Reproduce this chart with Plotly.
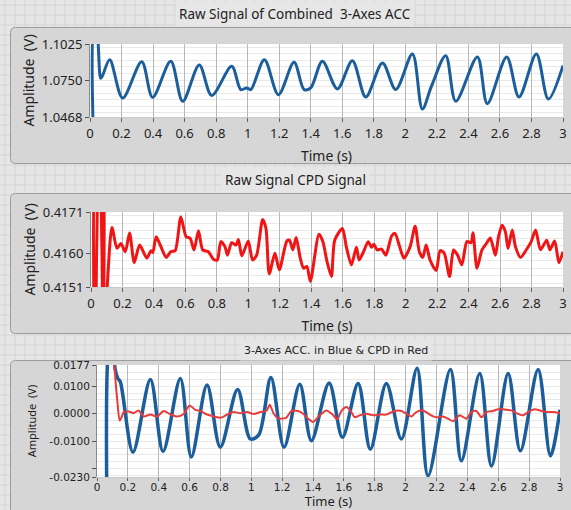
import plotly.graph_objects as go

# ---------------- data ----------------
# Panel 1: raw combined 3-axes ACC (V)
t_acc = [0.022, 0.030, 0.045, 0.053, 0.068, 0.080, 0.125, 0.207, 0.328, 0.397, 0.512, 0.588,
         0.693, 0.772, 0.899, 0.956, 0.994, 1.020, 1.106, 1.195, 1.294, 1.358, 1.400, 1.474,
         1.569, 1.664, 1.749, 1.855, 1.939, 2.045, 2.108, 2.167, 2.256, 2.320, 2.457, 2.520,
         2.643, 2.721, 2.831, 2.907, 3.000]
v_acc = [1.030, 1.118, 1.118, 1.100, 1.0763, 1.0785, 1.0905, 1.0613, 1.0890, 1.0618, 1.0893, 1.0588,
         1.0865, 1.0633, 1.0855, 1.0677, 1.0690, 1.0677, 1.0905, 1.0638, 1.0885, 1.0677, 1.0690, 1.0893,
         1.0682, 1.0898, 1.0621, 1.0880, 1.0677, 1.0949, 1.0529, 1.0707, 1.0936, 1.0588, 1.0926, 1.0570,
         1.0926, 1.0621, 1.0949, 1.0605, 1.0860]

# Panel 2: raw CPD signal (V)
t_cpd = [0.020, 0.028, 0.036, 0.043, 0.062, 0.069, 0.076, 0.083, 0.098, 0.133, 0.165, 0.190,
         0.218, 0.245, 0.275, 0.309, 0.355, 0.381, 0.393, 0.414, 0.440, 0.478, 0.507, 0.535,
         0.571, 0.605, 0.630, 0.655, 0.683, 0.710, 0.746, 0.778, 0.803, 0.825, 0.852, 0.867,
         0.894, 0.922, 0.937, 0.958, 0.979, 1.000, 1.027, 1.053, 1.091, 1.112, 1.133, 1.169,
         1.197, 1.245, 1.262, 1.283, 1.304, 1.330, 1.351, 1.372, 1.394, 1.449, 1.474, 1.500,
         1.528, 1.549, 1.598, 1.623, 1.655, 1.687, 1.704, 1.730, 1.762, 1.783, 1.798, 1.819,
         1.847, 1.874, 1.911, 1.932, 1.960, 1.989, 2.028, 2.060, 2.087, 2.109, 2.130, 2.155,
         2.194, 2.219, 2.245, 2.279, 2.304, 2.330, 2.357, 2.389, 2.415, 2.428, 2.453, 2.485,
         2.513, 2.538, 2.570, 2.591, 2.613, 2.634, 2.651, 2.677, 2.698, 2.730, 2.768, 2.798,
         2.826, 2.857, 2.896, 2.917, 2.947, 2.974, 3.000]
v_cpd = [0.4140, 0.4182, 0.4182, 0.4140, 0.4140, 0.4182, 0.4182, 0.4142, 0.4148, 0.41669, 0.41613, 0.41626,
         0.41604, 0.41654, 0.41575, 0.41622, 0.41587, 0.41607, 0.41602, 0.41644, 0.41622, 0.41589, 0.41604, 0.41607,
         0.41697, 0.41644, 0.41640, 0.41609, 0.41660, 0.41609, 0.41604, 0.41584, 0.41582, 0.41631, 0.41617, 0.41595,
         0.41628, 0.41622, 0.41637, 0.41593, 0.41613, 0.41633, 0.41582, 0.41595, 0.41690, 0.41666, 0.41545, 0.41600,
         0.41556, 0.41633, 0.41635, 0.41609, 0.41642, 0.41587, 0.41560, 0.41565, 0.41525, 0.41651, 0.41631, 0.41578,
         0.41538, 0.41635, 0.41666, 0.41617, 0.41569, 0.41616, 0.41582, 0.41602, 0.41631, 0.41616, 0.41624, 0.41609,
         0.41611, 0.41595, 0.41646, 0.41653, 0.41620, 0.41587, 0.41617, 0.41672, 0.41604, 0.41589, 0.41622, 0.41582,
         0.41554, 0.41607, 0.41600, 0.41538, 0.41609, 0.41595, 0.41569, 0.41631, 0.41628, 0.41655, 0.41560, 0.41609,
         0.41626, 0.41641, 0.41595, 0.41646, 0.41675, 0.41657, 0.41613, 0.41662, 0.41617, 0.41589, 0.41610, 0.41631,
         0.41662, 0.41609, 0.41635, 0.41609, 0.41633, 0.41575, 0.41604]

# Panel 3: ACC (blue) and CPD (red), offset removed (V)
t_acc_c = [0.064, 0.080, 0.100, 0.118, 0.135, 0.151, 0.233, 0.346, 0.428, 0.540, 0.611, 0.713,
           0.799, 0.911, 0.994, 1.048, 1.127, 1.212, 1.314, 1.389, 1.504, 1.590, 1.692, 1.771,
           1.875, 1.972, 2.074, 2.145, 2.290, 2.361, 2.480, 2.556, 2.664, 2.743, 2.858, 2.938, 3.000]
v_acc_c = [-0.032, 0.026, 0.028, 0.016, 0.0128, 0.0116, -0.0140, 0.0124, -0.0137, 0.0128, -0.0157, 0.0104,
           -0.0122, 0.0088, -0.0092, -0.0077, 0.0132, -0.0122, 0.0107, -0.0098, 0.0112, -0.0086, 0.0110, -0.0129,
           0.0110, -0.0092, 0.0165, -0.0226, 0.0161, -0.0171, 0.0146, -0.0190, 0.0146, -0.0135, 0.0161, -0.0153, 0.0014]

t_cpd_c = [0.100, 0.112, 0.120, 0.132, 0.147, 0.160, 0.173, 0.205, 0.238, 0.270, 0.302, 0.345,
           0.389, 0.432, 0.475, 0.518, 0.562, 0.600, 0.637, 0.670, 0.713, 0.756, 0.800, 0.843,
           0.886, 0.929, 0.972, 1.015, 1.058, 1.100, 1.119, 1.145, 1.177, 1.184, 1.225, 1.260,
           1.303, 1.335, 1.368, 1.400, 1.443, 1.486, 1.525, 1.556, 1.584, 1.616, 1.648, 1.670,
           1.702, 1.745, 1.788, 1.832, 1.875, 1.929, 1.972, 2.004, 2.037, 2.069, 2.113, 2.156,
           2.199, 2.242, 2.274, 2.307, 2.350, 2.393, 2.426, 2.458, 2.491, 2.523, 2.566, 2.610,
           2.653, 2.685, 2.718, 2.761, 2.793, 2.836, 2.869, 2.912, 2.955, 3.000]
v_cpd_c = [0.030, 0.0180, 0.0120, 0.0045, -0.0025, -0.0012, 0.0006, 0.0008, 0.0002, 0.0012, -0.0010, -0.0003,
           -0.0010, 0.0010, -0.0002, -0.0010, -0.0001, 0.0030, 0.0014, 0.0010, -0.0003, -0.0010, -0.0015, -0.0003,
           0.0006, 0.0002, 0.0006, -0.0001, 0.0006, 0.0012, 0.0033, 0.0000, -0.0018, -0.0018, -0.0015, 0.0010,
           0.0010, 0.0000, -0.0018, -0.0030, -0.0006, 0.0012, -0.0002, -0.0020, 0.0010, 0.0024, 0.0006, -0.0013,
           -0.0006, 0.0000, -0.0006, -0.0003, -0.0003, 0.0010, 0.0010, 0.0000, -0.0010, 0.0006, 0.0012, -0.0003,
           -0.0013, -0.0010, -0.0018, -0.0027, -0.0006, -0.0018, 0.0006, 0.0010, -0.0013, 0.0006, 0.0010, 0.0018,
           0.0014, 0.0012, 0.0002, -0.0006, 0.0006, 0.0016, 0.0012, 0.0006, 0.0006, 0.0002]

titles = ["Raw Signal of Combined  3-Axes ACC", "Raw Signal CPD Signal", "3-Axes ACC. in Blue & CPD in Red"]
y1_ticks = [1.0468, 1.0750, 1.1025]
y2_ticks = [0.4151, 0.4160, 0.4171]
y3_ticks = [-0.0230, -0.0200, -0.0100, 0.0000, 0.0100, 0.0177]
y3_text = ["-0.0230", "", "-0.0100", "0.0000", "0.0100", "0.0177"]

# ---------------- layout helpers ----------------
W, H = 571, 510
def px(x):
    return x / W
def py(y):
    return 1 - y / H

BLUE = "#1b5e9b"
RED = "#f01414"
F1 = "Noto Sans"
F3 = "DejaVu Sans"

fig = go.Figure()
fig.add_trace(go.Scatter(x=t_acc, y=v_acc, mode="lines", line=dict(color=BLUE, width=3, shape="spline", smoothing=0.9),
                         xaxis="x", yaxis="y", showlegend=False, name="ACC"))
fig.add_trace(go.Scatter(x=t_cpd, y=v_cpd, mode="lines", line=dict(color=RED, width=3, shape="spline", smoothing=0.7),
                         xaxis="x2", yaxis="y2", showlegend=False, name="CPD"))
fig.add_trace(go.Scatter(x=t_acc_c, y=v_acc_c, mode="lines", line=dict(color=BLUE, width=3.5, shape="spline", smoothing=0.9),
                         xaxis="x3", yaxis="y3", showlegend=False, name="ACC"))
fig.add_trace(go.Scatter(x=t_cpd_c, y=v_cpd_c, mode="lines", line=dict(color="#e83c3c", width=2, shape="spline", smoothing=0.7),
                         xaxis="x3", yaxis="y3", showlegend=False, name="CPD"))

shapes = []
# background block grid
for k in range(58):
    shapes.append(dict(type="line", xref="paper", yref="paper", x0=px(5 + 10 * k), x1=px(5 + 10 * k), y0=0, y1=1,
                       line=dict(color="#d4d4d4", width=1), layer="below"))
for k in range(52):
    shapes.append(dict(type="line", xref="paper", yref="paper", x0=0, x1=1, y0=py(5 + 10 * k), y1=py(5 + 10 * k),
                       line=dict(color="#d4d4d4", width=1), layer="below"))

def rounded(x0, y0, x1, y1, r):
    pts = (f"M {px(x0 + r)},{py(y0)} L {px(x1 - r)},{py(y0)} Q {px(x1)},{py(y0)} {px(x1)},{py(y0 + r)} "
           f"L {px(x1)},{py(y1 - r)} Q {px(x1)},{py(y1)} {px(x1 - r)},{py(y1)} "
           f"L {px(x0 + r)},{py(y1)} Q {px(x0)},{py(y1)} {px(x0)},{py(y1 - r)} "
           f"L {px(x0)},{py(y0 + r)} Q {px(x0)},{py(y0)} {px(x0 + r)},{py(y0)} Z")
    return dict(type="path", xref="paper", yref="paper", path=pts, fillcolor="#d6d6d6",
                line=dict(color="#9c9c9c", width=1), layer="below")

shapes.append(rounded(10.5, 27.5, 576, 163.5, 5))
shapes.append(rounded(10.5, 193.5, 576, 333.5, 5))
shapes.append(rounded(10.5, 360.5, 576, 520, 5))

plots = [(90, 44, 563, 117), (91, 212, 563, 287), (97, 365, 560, 477)]
for (x0, y0, x1, y1) in plots:
    shapes.append(dict(type="rect", xref="paper", yref="paper", x0=px(x0), x1=px(x1), y0=py(y1), y1=py(y0),
                       fillcolor="white", line=dict(width=0), layer="below"))

annotations = []
for txt, cx, cy, fam, fs in [(titles[0], 295, 14, F1, 13.5), (titles[1], 295, 180, F1, 13.5), (titles[2], 336, 350, F3, 11)]:
    annotations.append(dict(text=txt, x=px(cx), y=py(cy), xref="paper", yref="paper", showarrow=False,
                            xanchor="center", yanchor="middle", font=dict(family=fam, size=fs, color="#222"),
                            bgcolor="#e6e6e6", borderpad=3))

def xax(dom, anchor, fam, fs, tfs, standoff, lab_off=0, tlen=4):
    return dict(domain=dom, anchor=anchor, range=[0, 3], tick0=0, dtick=0.2, showgrid=True, gridcolor="#b8b8b8",
                gridwidth=1, zeroline=False, ticks="outside", ticklen=tlen, tickcolor="#666", showline=True,
                linecolor="#c8c8c8", tickfont=dict(family=fam, size=fs, color="#222"), automargin=False,
                ticklabelstandoff=lab_off,
                title=dict(text="Time (s)", font=dict(family=F1, size=tfs, color="#222"), standoff=standoff))

def yax(dom, anchor, rng, tv, tt, fam, fs, title, tfs, mdt, mt0, standoff):
    return dict(domain=dom, anchor=anchor, range=rng, tickmode="array", tickvals=tv, ticktext=tt, showgrid=False,
                zeroline=False, ticks="outside", ticklen=4, tickcolor="#555", showline=True, linecolor="#8a8a8a",
                tickfont=dict(family=fam, size=fs, color="#222"), automargin=False,
                minor=dict(showgrid=True, gridcolor="#e9e9e9", dtick=mdt, tick0=mt0, ticks=""),
                title=dict(text=title, font=dict(family=F1, size=tfs, color="#222"), standoff=standoff))

fig.update_layout(
    width=W, height=H, margin=dict(l=0, r=0, t=0, b=0, autoexpand=False),
    paper_bgcolor="#e6e6e6", plot_bgcolor="rgba(0,0,0,0)",
    shapes=shapes, annotations=annotations,
    xaxis=xax([px(90), px(563)], "y", F1, 13, 14, 10),
    yaxis=yax([py(117), py(44)], "x", [1.0468, 1.1025], y1_ticks, ["1.0468", "1.0750", "1.1025"], F1, 13,
              "Amplitude  (V)", 14, 0.005, 1.075, 3),
    xaxis2=xax([px(91), px(563)], "y2", F1, 13, 14, 10),
    yaxis2=yax([py(287), py(212)], "x2", [0.4151, 0.4171], y2_ticks, ["0.4151", "0.4160", "0.4171"], F1, 13,
               "Amplitude  (V)", 14, 0.0002, 0.416, 3),
    xaxis3=xax([px(97), px(560)], "y3", F3, 10.5, 13, 5, lab_off=-3, tlen=3),
    yaxis3=yax([py(477), py(365)], "x3", [-0.0230, 0.0177], y3_ticks, y3_text, F3, 10.5,
               "Amplitude  (V)", 11, 0.0025, 0.0, 10),
)

fig.write_html("out.html", config={"displayModeBar": False},
               post_script="document.body.style.margin='0px';document.body.style.overflow='hidden';")
